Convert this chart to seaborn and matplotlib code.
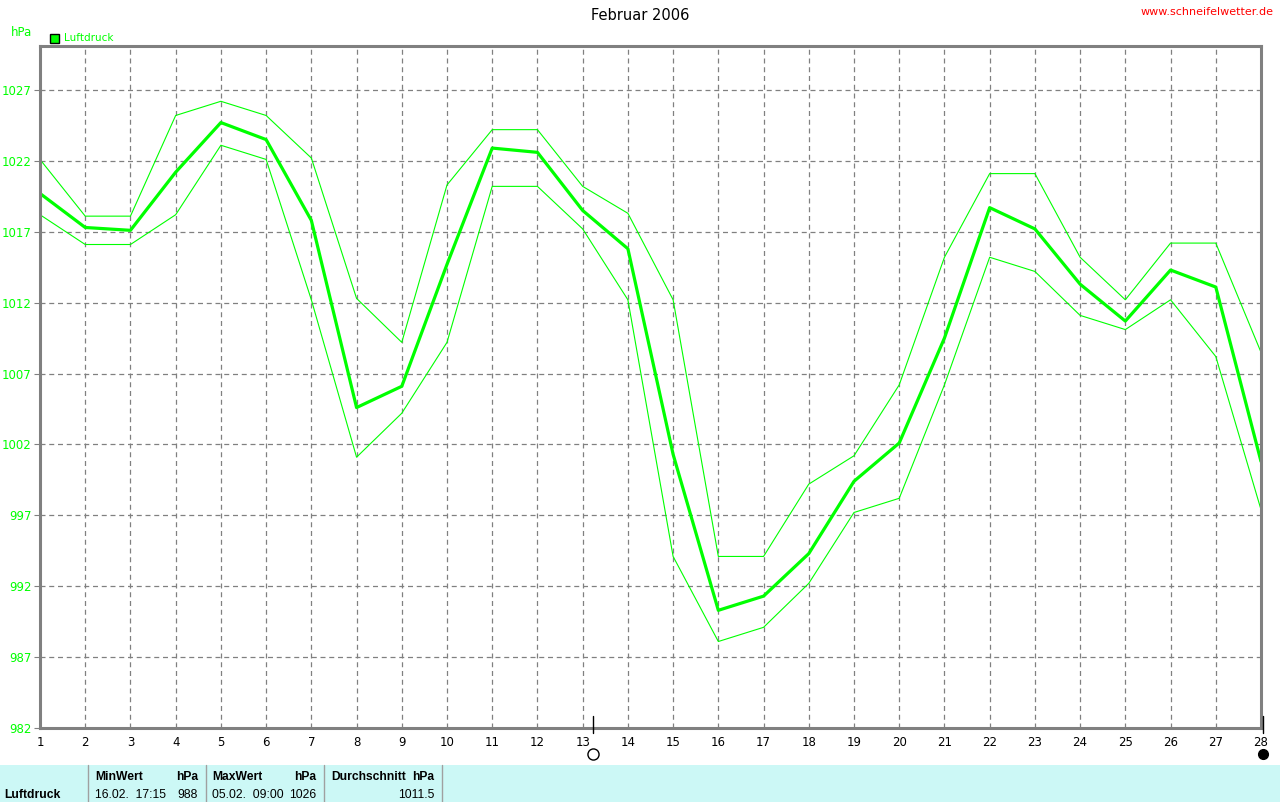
import matplotlib
matplotlib.use("Agg")
import matplotlib.pyplot as plt
import seaborn as sns
import pandas as pd
import numpy as np

days = list(range(1, 29))
mean_vals = [1019.7, 1017.3, 1017.1, 1021.2, 1024.7, 1023.5, 1017.8, 1004.6, 1006.1, 1014.7,
             1022.9, 1022.6, 1018.5, 1015.8, 1001.3, 990.3, 991.3, 994.3, 999.4, 1002.1,
             1009.5, 1018.7, 1017.2, 1013.3, 1010.7, 1014.3, 1013.1, 1000.8]
max_vals = [1022.1, 1018.1, 1018.1, 1025.2, 1026.2, 1025.2, 1022.2, 1012.3, 1009.2, 1020.3,
            1024.2, 1024.2, 1020.2, 1018.3, 1012.2, 994.1, 994.1, 999.2, 1001.2, 1006.2,
            1015.2, 1021.1, 1021.1, 1015.2, 1012.2, 1016.2, 1016.2, 1008.5]
min_vals = [1018.2, 1016.1, 1016.1, 1018.2, 1023.1, 1022.1, 1012.2, 1001.1, 1004.2, 1009.2,
            1020.2, 1020.2, 1017.2, 1012.2, 994.1, 988.1, 989.1, 992.2, 997.2, 998.2,
            1006.2, 1015.2, 1014.2, 1011.1, 1010.1, 1012.2, 1008.2, 997.4]
y_ticks = [982, 987, 992, 997, 1002, 1007, 1012, 1017, 1022, 1027]

title = "Februar 2006"
series_name = "Luftdruck"
table_rows = {
    "MinWert": ("16.02.  17:15", "988"),
    "MaxWert": ("05.02.  09:00", "1026"),
    "Durchschnitt": ("", "1011.5"),
}
full_moon_day = 13.22
last_day_moon = 28

sns.set_theme(style="white")
plt.rcParams['font.family'] = ['DejaVu Sans']

GREEN = "#00ff00"
GRAY = "#808080"

fig = plt.figure(figsize=(12.8, 8.02), dpi=100)
W, H = 1280, 802
ax = fig.add_axes([40 / W, (H - 728) / H, (1261 - 40) / W, (728 - 46) / H])

df = pd.DataFrame({"day": days, "mean": mean_vals, "max": max_vals, "min": min_vals})
sns.lineplot(data=df, x="day", y="max", ax=ax, color=GREEN, linewidth=0.8)
sns.lineplot(data=df, x="day", y="min", ax=ax, color=GREEN, linewidth=0.8)
sns.lineplot(data=df, x="day", y="mean", ax=ax, color=GREEN, linewidth=2.3)

ax.set_xlim(1, 28)
ax.set_ylim(982, 1030.1)
ax.set_xticks(days)
ax.set_xticklabels([str(d) for d in days], fontsize=8.5, color="black")
ax.set_yticks(y_ticks)
ax.set_yticklabels([str(t) for t in y_ticks], fontsize=8.5, color=GREEN)
ax.set_xlabel("")
ax.set_ylabel("")
ax.grid(True, color=GRAY, linestyle=(0, (4, 3)), linewidth=0.9)
for s in ax.spines.values():
    s.set_color(GRAY)
    s.set_linewidth(2.2)
ax.tick_params(axis="y", length=4, width=0.8, color=GRAY, pad=2, left=True)
ax.tick_params(axis="x", length=0, pad=6)
ax.set_axisbelow(True)

# moon markers
tr = ax.get_xaxis_transform()
ax.plot([full_moon_day, full_moon_day], [-0.008, 0.018], transform=tr, color="black",
        lw=1.0, clip_on=False, zorder=10)
ax.plot([last_day_moon + 0.04, last_day_moon + 0.04], [-0.008, 0.018], transform=tr,
        color="black", lw=1.0, clip_on=False, zorder=10)
ax.plot([full_moon_day], [-0.038], transform=tr, marker="o", markersize=8,
        markerfacecolor="white", markeredgecolor="black", markeredgewidth=1.0, clip_on=False)
ax.plot([last_day_moon + 0.04], [-0.038], transform=tr, marker="o", markersize=7,
        markerfacecolor="black", markeredgecolor="black", clip_on=False)

# header texts
fig.text(0.5, 1 - 15 / H, title, ha="center", va="center", fontsize=10.5, color="black")
fig.text(1274 / W, 1 - 12 / H, "www.schneifelwetter.de", ha="right", va="center",
         fontsize=8, color="red")
fig.text(11 / W, 1 - 33 / H, "hPa", ha="left", va="center", fontsize=8.5, color=GREEN)
fig.patches.append(plt.Rectangle((50 / W, 1 - 43 / H), 9 / W, 9 / H, transform=fig.transFigure,
                                 facecolor=GREEN, edgecolor="black", linewidth=1.0))
fig.text(64 / W, 1 - 38 / H, series_name, ha="left", va="center", fontsize=7.5, color=GREEN)

# bottom table
fig.patches.append(plt.Rectangle((0, 0), 1, 37 / H, transform=fig.transFigure,
                                 facecolor="#ccf8f6", edgecolor="none"))
for xs in (88, 206, 324, 442):
    fig.add_artist(plt.Line2D([xs / W, xs / W], [0, 37 / H], transform=fig.transFigure,
                              color="#a0a0a0", lw=1.0))
y1 = 1 - 777 / H
y2 = 1 - 795 / H
fs = 8.7
tf = ['Liberation Sans', 'DejaVu Sans']
fig.text(4 / W, y2, series_name, ha="left", va="center", fontsize=fs, fontweight="bold",
         color="black", family=tf)
cols = [(95, 198, "MinWert"), (212, 316, "MaxWert"), (331, 434, "Durchschnitt")]
for xl, xr, key in cols:
    fig.text(xl / W, y1, key, ha="left", va="center", fontsize=fs, fontweight="bold",
             color="black", family=tf)
    fig.text(xr / W, y1, "hPa", ha="right", va="center", fontsize=fs, fontweight="bold",
             color="black", family=tf)
    when, val = table_rows[key]
    if when:
        fig.text(xl / W, y2, when, ha="left", va="center", fontsize=fs, color="black", family=tf)
    fig.text(xr / W, y2, val, ha="right", va="center", fontsize=fs, color="black", family=tf)

fig.savefig("out.png", dpi=100)
